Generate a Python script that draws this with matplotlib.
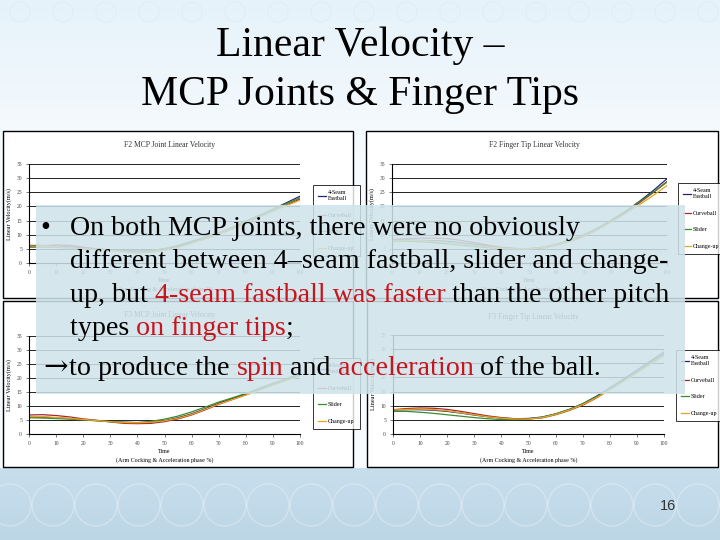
import matplotlib
matplotlib.use("Agg")
import matplotlib.pyplot as plt
from matplotlib.patches import Rectangle, Circle
import numpy as np

W, H = 720, 540

# time axis (phase %)
t = [0, 5, 10, 15, 20, 25, 30, 35, 40, 45, 50, 55, 60, 65, 70, 75, 80, 85, 90, 95, 100]
pitches = ["4-Seam\nFastball", "Curveball", "Slider", "Change-up"]
colors = ["#23237a", "#a8282e", "#3c8c2c", "#e8a41e"]

f2_mcp_fast = [6.2, 6.2, 6.0, 5.7, 5.3, 5.0, 4.7, 4.4, 4.2, 4.4, 5.0, 6.0, 7.4, 8.9, 10.5, 12.4, 14.5, 16.7, 19.0, 21.3, 23.6]
f2_mcp_curve = [5.8, 6.0, 6.4, 6.3, 5.6, 5.0, 4.5, 4.0, 3.6, 3.8, 4.5, 5.6, 7.0, 8.5, 10.2, 12.0, 14.0, 16.2, 18.4, 20.5, 22.6]
f2_mcp_slider = [5.6, 5.6, 5.5, 5.3, 5.0, 4.8, 4.5, 4.2, 4.1, 4.4, 5.1, 6.2, 7.7, 9.2, 10.7, 12.6, 14.8, 16.9, 19.0, 21.0, 23.0]
f2_mcp_change = [6.0, 6.0, 5.7, 5.4, 5.0, 4.7, 4.4, 4.0, 3.7, 3.9, 4.5, 5.5, 7.0, 8.6, 10.3, 12.2, 14.2, 16.3, 18.3, 20.3, 22.2]

f2_tip_fast = [8.2, 8.2, 8.0, 7.9, 7.7, 7.2, 6.6, 6.0, 5.4, 5.1, 5.1, 5.5, 6.6, 8.0, 9.9, 12.3, 15.2, 18.3, 21.8, 25.6, 29.8]
f2_tip_curve = [8.4, 8.6, 8.8, 8.8, 8.6, 8.0, 7.2, 6.3, 5.5, 5.1, 5.0, 5.3, 6.3, 7.7, 9.5, 11.9, 14.8, 17.9, 21.3, 24.9, 28.8]
f2_tip_slider = [7.8, 7.7, 7.5, 7.2, 6.8, 6.3, 5.8, 5.4, 5.1, 5.0, 5.1, 5.6, 6.7, 8.2, 10.1, 12.5, 15.3, 18.3, 21.6, 25.0, 28.6]
f2_tip_change = [8.0, 8.0, 7.9, 7.7, 7.4, 6.9, 6.3, 5.7, 5.2, 5.0, 5.0, 5.4, 6.4, 7.8, 9.6, 11.9, 14.6, 17.5, 20.6, 23.9, 27.4]

f3_mcp_fast = [6.0, 6.0, 5.8, 5.5, 5.1, 4.8, 4.5, 4.2, 4.0, 4.2, 4.8, 5.8, 7.2, 9.0, 11.0, 12.6, 14.3, 16.1, 18.0, 19.6, 21.2]
f3_mcp_curve = [6.8, 6.9, 6.6, 6.1, 5.4, 4.9, 4.3, 3.8, 3.7, 3.8, 4.4, 5.4, 6.8, 8.6, 10.6, 12.3, 14.0, 15.8, 17.5, 19.2, 20.8]
f3_mcp_slider = [5.8, 5.7, 5.5, 5.3, 5.0, 4.7, 4.4, 4.2, 4.1, 4.5, 5.3, 6.4, 7.9, 9.6, 11.4, 12.9, 14.5, 16.3, 18.1, 19.8, 21.4]
f3_mcp_change = [6.2, 6.2, 5.9, 5.6, 5.2, 4.8, 4.4, 4.1, 4.0, 4.2, 4.7, 5.6, 7.0, 8.8, 10.7, 12.3, 13.9, 15.6, 17.4, 19.1, 20.8]

f3_tip_fast = [8.4, 8.6, 8.6, 8.4, 8.0, 7.4, 6.7, 6.1, 5.6, 5.4, 5.5, 6.0, 7.1, 8.6, 10.7, 13.3, 16.3, 19.4, 22.6, 25.8, 29.0]
f3_tip_curve = [8.6, 9.0, 9.2, 9.1, 8.7, 8.0, 7.2, 6.4, 5.8, 5.4, 5.3, 5.7, 6.8, 8.3, 10.2, 12.7, 15.7, 18.8, 22.0, 25.2, 28.4]
f3_tip_slider = [8.0, 8.0, 7.7, 7.3, 6.8, 6.3, 5.8, 5.4, 5.1, 5.1, 5.3, 5.9, 7.1, 8.7, 10.7, 13.1, 15.9, 18.9, 22.0, 25.0, 28.0]
f3_tip_change = [8.5, 8.7, 8.8, 8.6, 8.2, 7.5, 6.8, 6.1, 5.6, 5.3, 5.3, 5.8, 6.9, 8.4, 10.4, 12.8, 15.6, 18.5, 21.5, 24.6, 27.6]

chart_titles = ["F2 MCP Joint Linear Velocity", "F2 Finger Tip Linear Velocity",
                "F3 MCP Joint Linear Velocity", "F3 Finger Tip Linear Velocity"]
chart_data = [
    [f2_mcp_fast, f2_mcp_curve, f2_mcp_slider, f2_mcp_change],
    [f2_tip_fast, f2_tip_curve, f2_tip_slider, f2_tip_change],
    [f3_mcp_fast, f3_mcp_curve, f3_mcp_slider, f3_mcp_change],
    [f3_tip_fast, f3_tip_curve, f3_tip_slider, f3_tip_change],
]

# layout in slide pixels (x0, y0, x1, y1), y down
panels = [(3, 131, 353, 298), (366, 131, 718, 298), (3, 301, 353, 467), (367, 301, 718, 467)]
plot_areas = [(29, 164, 300, 263), (392, 164, 667, 263), (29, 336, 300, 434), (393, 335, 664, 434)]
title_y = [145, 145, 315, 317]
legend_at = [(310, 182), (675, 180), (310, 355), (673, 347)]

SERIF = ["Liberation Serif", "DejaVu Serif"]


def fbox(x0, y0, x1, y1):
    return [x0 / W, 1 - y1 / H, (x1 - x0) / W, (y1 - y0) / H]


fig = plt.figure(figsize=(7.2, 5.4), dpi=100)

# slide background
bg = fig.add_axes([0, 0, 1, 1], zorder=0)
bg.set_xlim(0, W)
bg.set_ylim(H, 0)
bg.axis("off")
grad = np.linspace(0, 1, 256).reshape(-1, 1)
top_c = np.array([0.90, 0.95, 0.98])
mid_c = np.array([0.97, 0.985, 0.995])
img = top_c + (mid_c - top_c) * np.clip(grad * 3, 0, 1)
bg.imshow(img.reshape(256, 1, 3), extent=[0, W, 468, 0], aspect="auto")
foot = np.array([0.78, 0.87, 0.93]) + (np.array([0.74, 0.84, 0.90]) - np.array([0.78, 0.87, 0.93])) * grad
bg.imshow(foot.reshape(256, 1, 3), extent=[0, W, H, 468], aspect="auto")
for cx in np.arange(10, W + 40, 43):
    bg.add_patch(Circle((cx, 505), 21, fill=False, ec="white", lw=1.0, alpha=0.3))
    bg.add_patch(Circle((cx + 10, 12), 10, fill=False, ec="#d3e3ee", lw=0.7, alpha=0.35))

bg.text(360, 56, "Linear Velocity –", ha="center", va="baseline", fontsize=30,
        family=SERIF, color="black")
bg.text(360, 105, "MCP Joints & Finger Tips", ha="center", va="baseline", fontsize=30,
        family=SERIF, color="black")
bg.text(668, 506, "16", ha="center", va="center", fontsize=10.5,
        family=["Liberation Sans", "DejaVu Sans"], color="#333333")

for i in range(4):
    px0, py0, px1, py1 = panels[i]
    bg.add_patch(Rectangle((px0, py0), px1 - px0, py1 - py0, fc="white", ec="black", lw=1.0))
    bg.text((plot_areas[i][0] + plot_areas[i][2]) / 2 + 5, title_y[i], chart_titles[i],
            ha="center", va="center", fontsize=5.5, family=SERIF, color="#333333")

    ax = fig.add_axes(fbox(*plot_areas[i]), zorder=2)
    ax.set_facecolor("none")
    for k in range(4):
        ax.plot(t, chart_data[i][k], color=colors[k], lw=0.9, label=pitches[k])
    ax.set_xlim(0, 100)
    ax.set_ylim(0, 35)
    ax.set_xticks(range(0, 101, 10))
    ax.set_yticks(range(0, 36, 5))
    ax.grid(axis="y", color="#222222", lw=0.7)
    ax.set_axisbelow(True)
    for s in ["top", "right"]:
        ax.spines[s].set_visible(False)
    for s in ["left", "bottom"]:
        ax.spines[s].set_linewidth(0.8)
    ax.tick_params(labelsize=4, length=2, width=0.5, pad=3, colors="#444444")
    for lab in ax.get_xticklabels() + ax.get_yticklabels():
        lab.set_family(SERIF)
    ax.set_ylabel("Linear Velocity(m/s)", fontsize=4.5, family=SERIF, labelpad=3)
    ax.set_xlabel("Time\n(Arm Cocking & Acceleration phase %)", fontsize=4.3,
                  family=SERIF, labelpad=2, linespacing=1.9)
    lx, ly = legend_at[i]
    leg = ax.legend(loc="upper left", bbox_to_anchor=(lx / W, 1 - ly / H),
                    bbox_transform=fig.transFigure, frameon=True,
                    fancybox=False, edgecolor="black", handlelength=1.3,
                    labelspacing=1.9, borderpad=0.9, handletextpad=0.3,
                    prop={"family": SERIF, "size": 4.3})
    leg.get_frame().set_linewidth(0.7)

# overlay text box
ov = fig.add_axes([0, 0, 1, 1], zorder=5)
ov.set_xlim(0, W)
ov.set_ylim(H, 0)
ov.axis("off")
ov.patch.set_alpha(0)
ov.add_patch(Rectangle((36, 205), 649, 189, fc="#cfe4ea", ec="none", alpha=0.86))

RED = "#c8141c"
lines = [
    (70, 235, [("On both MCP joints, there were no obviously", "black")]),
    (70, 268, [("different between 4–seam fastball, slider and change-", "black")]),
    (70, 302, [("up, but ", "black"), ("4-seam fastball was faster", RED),
               (" than the other pitch", "black")]),
    (70, 335, [("types ", "black"), ("on finger tips", RED), (";", "black")]),
    (69, 375, [("to produce the ", "black"), ("spin", RED), (" and ", "black"),
               ("acceleration", RED), (" of the ball.", "black")]),
]

renderer = fig.canvas.get_renderer()


def text_w(s, size):
    tt = ov.text(0, 0, s, fontsize=size, family=SERIF)
    w = tt.get_window_extent(renderer).width
    tt.remove()
    return w


fs = 20 * 508 / text_w("On both MCP joints, there were no obviously", 20)
ov.text(40, 235, "•", fontsize=fs, family=SERIF, va="baseline", color="black")
ov.text(43, 375, "→", fontsize=fs * 1.05, family=["DejaVu Serif"], va="baseline",
        color="black")

for x0, yb, runs in lines:
    prefix = ""
    for txt, col in runs:
        stripped = txt.lstrip(" ")
        lead = prefix + txt[: len(txt) - len(stripped)]
        if lead:
            x = x0 + text_w(lead + stripped, fs) - text_w(stripped, fs)
        else:
            x = x0
        ov.text(x, yb, stripped, fontsize=fs, family=SERIF, va="baseline", color=col)
        prefix += txt

fig.savefig("out.png", dpi=100)
